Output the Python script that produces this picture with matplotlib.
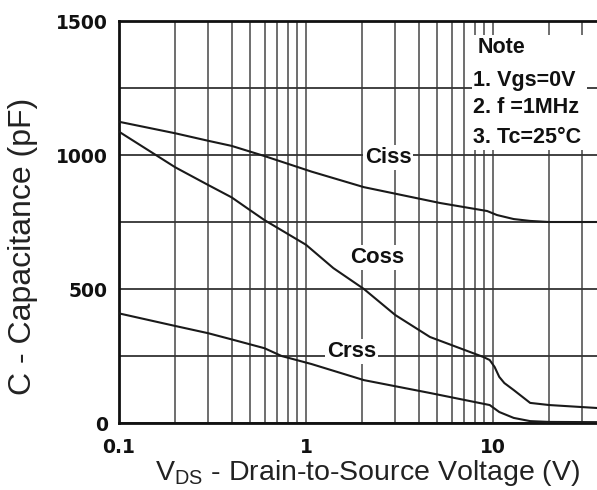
import matplotlib
matplotlib.use("Agg")
import matplotlib.pyplot as plt
from matplotlib.ticker import LogLocator, NullFormatter, FixedLocator
from matplotlib.patches import Rectangle

# ---- data ----
ciss_v = [0.1, 0.2, 0.3, 0.4, 0.6, 1.07, 2.04, 5.2, 9.3, 10.5, 12.9, 15.8, 20, 40]
ciss_c = [1124, 1081, 1053, 1034, 996, 938, 880, 821, 791, 776, 761, 754, 750, 750]

coss_v = [0.1, 0.2, 0.3, 0.4, 0.5, 0.6, 1.0, 1.4, 2.04, 3.0, 4.6, 8.9, 9.6, 10.2, 10.8, 11.5, 12.9, 15.8, 20, 40]
coss_c = [1087, 954, 888, 842, 795, 757, 665, 578, 500, 403, 321, 246, 235, 209, 172, 149, 123, 75, 67, 54]

crss_v = [0.1, 0.2, 0.3, 0.4, 0.6, 0.74, 1.07, 2.04, 4.6, 9.6, 10.8, 12.9, 15.8, 20, 40]
crss_c = [409, 362, 335, 312, 279, 250, 220, 160, 112, 67, 41, 19, 7, 4, 3]

curve_names = ["Ciss", "Coss", "Crss"]
x_ticks = [0.1, 1, 10]
x_tick_labels = ["0.1", "1", "10"]
y_ticks = [0, 500, 1000, 1500]
y_tick_labels = ["0", "500", "1000", "1500"]
note_lines = ["Note", "1. Vgs=0V", "2. f =1MHz", "3. Tc=25°C"]

plt.rcParams['font.family'] = ['Liberation Sans', 'DejaVu Sans']

W, H = 597, 490
fig = plt.figure(figsize=(W / 100, H / 100), dpi=100)
ax_l, ax_b, ax_w, ax_h = 119, 67, 486.6, 402
ax = fig.add_axes([ax_l / W, ax_b / H, ax_w / W, ax_h / H])

ax.set_xscale('log')
ax.set_xlim(0.1, 40)
ax.set_ylim(0, 1500)

# grid
ax.set_axisbelow(True)
ax.xaxis.set_major_locator(FixedLocator(x_ticks))
ax.xaxis.set_minor_locator(LogLocator(base=10, subs=[2, 3, 4, 5, 6, 7, 8, 9]))
ax.xaxis.set_minor_formatter(NullFormatter())
ax.set_xticks(x_ticks)
ax.set_xticklabels(x_tick_labels)
ax.set_yticks(y_ticks)
ax.set_yticklabels(y_tick_labels)
ax.yaxis.set_minor_locator(FixedLocator([250, 750, 1250]))
ax.grid(True, axis='x', which='both', color='#555555', lw=1.2)
ax.grid(True, axis='y', which='both', color='#333333', lw=1.3)
ax.tick_params(which='both', length=0)
ax.tick_params(axis='x', pad=11)
ax.tick_params(axis='y', pad=8)
for lab in ax.get_xticklabels() + ax.get_yticklabels():
    lab.set_family('DejaVu Sans')
    lab.set_fontweight('bold')
    lab.set_fontsize(13.5)
    lab.set_color('#111111')

for side in ['left', 'bottom', 'top']:
    ax.spines[side].set_linewidth(2)
    ax.spines[side].set_color('#111111')
ax.spines['right'].set_visible(False)

# curves
for v, c in [(ciss_v, ciss_c), (coss_v, coss_c), (crss_v, crss_c)]:
    ax.plot(v, c, color='#1a1a1a', lw=1.5, zorder=3)

# curve labels
label_pos = [(2.75, 989), (2.40, 619), (1.76, 265)]
for name, (lx, ly) in zip(curve_names, label_pos):
    ax.text(lx, ly, name, ha='center', va='center', fontsize=16, fontweight='bold',
            color='#111111', zorder=4,
            bbox=dict(facecolor='white', edgecolor='none', pad=1.5))

# note box
ax.add_patch(Rectangle((0.7255, 0.679), 0.2365, 0.286, transform=ax.transAxes,
                       facecolor='white', edgecolor='none', zorder=2.5))
note_y = [0.933, 0.853, 0.784, 0.709]
note_x = [0.737, 0.727, 0.727, 0.727]
for t, nx, ny in zip(note_lines, note_x, note_y):
    ax.text(nx, ny, t, transform=ax.transAxes, ha='left', va='center',
            fontsize=15.5, fontweight='bold', color='#111111', zorder=4)

# axis labels
ax.set_ylabel("C - Capacitance (pF)", fontsize=23, color='#222222')
ax.yaxis.set_label_coords((38 - ax_l) / ax_w, (423 - 246) / ax_h)
ax.set_xlabel(r"V$_{\mathregular{DS}}$ - Drain-to-Source Voltage (V)", fontsize=20.5, color='#222222')
ax.xaxis.set_label_coords((368 - ax_l) / ax_w, (423 - 458) / ax_h)

fig.savefig("out.png", dpi=100)
